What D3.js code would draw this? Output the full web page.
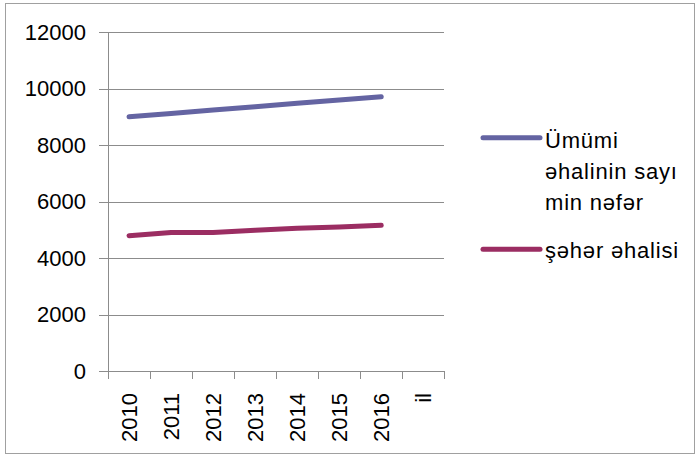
<!DOCTYPE html>
<html><head><meta charset="utf-8">
<script src="https://cdn.jsdelivr.net/npm/d3@7"></script>
<style>
html,body{margin:0;padding:0;background:#fff;}
svg{display:block;}
text{font-family:"Liberation Sans",Arial,sans-serif;fill:#000;}
</style></head>
<body>
<svg id="c" width="696" height="455"></svg>
<script>
const categories = ["2010","2011","2012","2013","2014","2015","2016","il"];
const years = ["2010","2011","2012","2013","2014","2015","2016"];
const totalPop = [8998, 9111, 9235, 9356, 9477, 9593, 9706];
const urbanPop = [4790, 4900, 4905, 4980, 5050, 5100, 5155];
const yTicks = [0, 2000, 4000, 6000, 8000, 10000, 12000];
const seriesNames = [["Ümümi", "əhalinin sayı", "min nəfər"], ["şəhər əhalisi"]];
const colors = ["#6464A2", "#9B2D62"];

(function(){
const svg = d3.select("#c");
svg.append("rect").attr("x",5.5).attr("y",3.5).attr("width",689).attr("height",450)
  .attr("fill","#fff").attr("stroke","#A0A0A0").attr("stroke-width",1);

const pLeft = 108, pRight = 444.3, pTop = 32, pBottom = 371;
const x = d3.scaleBand().domain(categories).range([pLeft, pRight]).padding(0);
const y = d3.scaleLinear().domain([0, 12000]).range([pBottom, pTop]);

// gridlines + y axis
const yAxis = d3.axisLeft(y).tickValues(yTicks).tickSize(9).tickPadding(13).tickFormat(d3.format("d"));
const gy = svg.append("g").attr("transform",`translate(${pLeft},0)`).call(yAxis);
gy.select(".domain").remove();
gy.selectAll(".tick line").attr("x2", pRight-pLeft).attr("x1",-9).attr("stroke","#8C8C8C").attr("shape-rendering","crispEdges");
gy.selectAll(".tick text").attr("font-size",22).attr("font-family","Liberation Sans, Arial, sans-serif");

// y axis line
svg.append("line").attr("x1",pLeft).attr("x2",pLeft).attr("y1",pTop).attr("y2",pBottom+8)
  .attr("stroke","#8C8C8C").attr("shape-rendering","crispEdges");

// x axis
const xAxis = d3.axisBottom(x).tickSize(0).tickPadding(0);
const gx = svg.append("g").attr("transform",`translate(0,${pBottom})`).call(xAxis);
gx.select(".domain").attr("stroke","#8C8C8C").attr("d",`M${pLeft},0H${pRight}`).attr("shape-rendering","crispEdges");
gx.selectAll(".tick line").remove();
gx.selectAll(".tick text")
  .attr("font-size",22).attr("font-family","Liberation Sans, Arial, sans-serif")
  .attr("transform","translate(0,22) rotate(-90)")
  .attr("text-anchor","end").attr("dy","0.35em").attr("y",0).attr("x",0);
// category boundary ticks
const bounds = categories.map(c => x(c)).concat([x(categories[categories.length-1]) + x.bandwidth()]);
svg.append("g").selectAll("line").data(bounds).join("line")
  .attr("x1",d=>d).attr("x2",d=>d).attr("y1",pBottom).attr("y2",pBottom+8)
  .attr("stroke","#8C8C8C").attr("shape-rendering","crispEdges");

// lines
const line = d3.line().x((d,i)=>x(years[i]) + x.bandwidth()/2).y(d=>y(d));
[totalPop, urbanPop].forEach((s,i)=>{
  svg.append("path").datum(s).attr("d",line).attr("fill","none")
    .attr("stroke",colors[i]).attr("stroke-width",5).attr("stroke-linecap","round").attr("stroke-linejoin","round");
});

// legend
const leg = svg.append("g");
const legY = [137.7, 249.3];
const baselines = [[148, 179, 210], [258]];
seriesNames.forEach((lines,i)=>{
  leg.append("line").attr("x1",483).attr("x2",540).attr("y1",legY[i]).attr("y2",legY[i])
    .attr("stroke",colors[i]).attr("stroke-width",5).attr("stroke-linecap","round");
  lines.forEach((t,j)=>{
    leg.append("text").attr("x",545).attr("y",baselines[i][j]).attr("font-size",22)
      .attr("letter-spacing","0.8px").text(t);
  });
});
})();
</script>
</body></html>
